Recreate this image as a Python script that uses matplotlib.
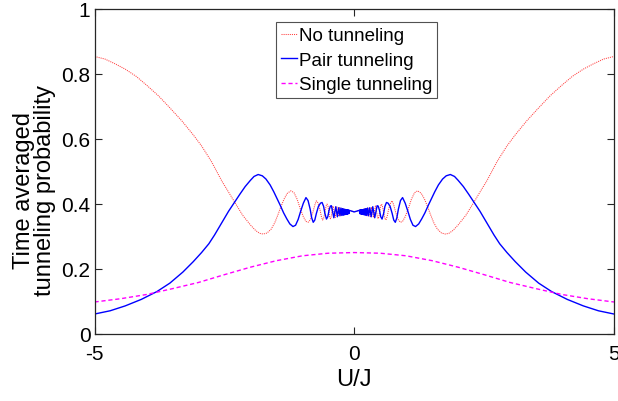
import matplotlib
matplotlib.use('Agg')
import matplotlib.pyplot as plt

plt.rcParams['font.family'] = ['Liberation Sans', 'DejaVu Sans']
plt.rcParams['axes.unicode_minus'] = False

# Pair tunneling (blue, solid)
pair_u_left = [-5.0, -4.7, -4.41, -4.1, -3.8, -3.55, -3.3, -3.1, -2.94, -2.8, -2.69, -2.55, -2.42, -2.3,
               -2.2, -2.1, -2.0, -1.93, -1.85, -1.77, -1.7, -1.62, -1.55, -1.48, -1.43, -1.36, -1.3,
               -1.24, -1.18, -1.13, -1.08, -1.03, -0.98, -0.93, -0.89, -0.85, -0.82, -0.79, -0.76,
               -0.73, -0.69, -0.65, -0.62, -0.59, -0.565, -0.535, -0.51, -0.485, -0.46, -0.44,
               -0.417, -0.394, -0.375, -0.356, -0.340, -0.325, -0.312, -0.299, -0.287, -0.276,
               -0.257, -0.240, -0.226, -0.213, -0.201, -0.191, -0.181, -0.173, -0.165, -0.158,
               -0.152, -0.146, -0.140, -0.135, -0.130, -0.126, -0.122, -0.118, -0.114, -0.111,
               -0.108, -0.105, -0.102, 0.0]
pair_left = [0.061, 0.071, 0.086, 0.106, 0.130, 0.156, 0.190, 0.222, 0.250, 0.277, 0.304, 0.342, 0.377,
             0.406, 0.430, 0.453, 0.472, 0.484, 0.490, 0.486, 0.476, 0.458, 0.437, 0.414, 0.397, 0.372,
             0.354, 0.338, 0.330, 0.334, 0.352, 0.378, 0.402, 0.419, 0.410, 0.384, 0.357, 0.343, 0.350,
             0.370, 0.392, 0.402, 0.404, 0.392, 0.370, 0.353, 0.360, 0.380, 0.393, 0.394,
             0.375, 0.357, 0.374, 0.391, 0.376, 0.360, 0.375, 0.388, 0.376, 0.363,
             0.387, 0.364, 0.385, 0.365, 0.384, 0.366, 0.383, 0.367, 0.382, 0.368,
             0.382, 0.368, 0.381, 0.369, 0.381, 0.369, 0.380, 0.370, 0.380, 0.370,
             0.380, 0.370, 0.380, 0.375]
pair_u_right = [0.102, 0.105, 0.108, 0.111, 0.114, 0.118, 0.122, 0.126, 0.130, 0.135, 0.140, 0.146,
                0.152, 0.158, 0.165, 0.173, 0.181, 0.191, 0.201, 0.213, 0.226, 0.240, 0.257, 0.276,
                0.287, 0.299, 0.312, 0.325, 0.340, 0.356, 0.375, 0.394, 0.417, 0.44, 0.46, 0.485,
                0.51, 0.535, 0.565, 0.59, 0.62, 0.65, 0.69, 0.73, 0.76, 0.79, 0.82, 0.85, 0.89, 0.93,
                0.98, 1.03, 1.08, 1.13, 1.18, 1.24, 1.3, 1.36, 1.43, 1.48, 1.55, 1.62, 1.7, 1.77,
                1.85, 1.93, 2.0, 2.1, 2.2, 2.3, 2.42, 2.55, 2.69, 2.8, 2.94, 3.1, 3.3, 3.55, 3.8,
                4.1, 4.41, 4.7, 5.0]
pair_right = [0.380, 0.370, 0.380, 0.370, 0.380, 0.370, 0.380, 0.369, 0.381, 0.369, 0.381, 0.368,
              0.382, 0.368, 0.382, 0.367, 0.383, 0.366, 0.384, 0.365, 0.385, 0.364, 0.387, 0.363,
              0.376, 0.388, 0.375, 0.360, 0.376, 0.391, 0.374, 0.357, 0.375, 0.394, 0.393, 0.380,
              0.360, 0.353, 0.370, 0.392, 0.404, 0.402, 0.392, 0.370, 0.350, 0.343, 0.357, 0.384,
              0.410, 0.419, 0.402, 0.378, 0.352, 0.334, 0.330, 0.338, 0.354, 0.372, 0.397, 0.414,
              0.437, 0.458, 0.476, 0.486, 0.490, 0.484, 0.472, 0.453, 0.430, 0.406, 0.377, 0.342,
              0.304, 0.277, 0.250, 0.222, 0.190, 0.156, 0.130, 0.106, 0.086, 0.071, 0.061]

# No tunneling (red, dotted)
none_u_left = [-5.0, -4.8, -4.6, -4.41, -4.2, -4.0, -3.77, -3.55, -3.32, -3.1, -2.94, -2.75, -2.55,
               -2.42, -2.3, -2.15, -2.0, -1.9, -1.82, -1.755, -1.68, -1.6, -1.53, -1.47, -1.41, -1.35,
               -1.29, -1.22, -1.16, -1.1, -1.04, -0.98, -0.93, -0.89, -0.85, -0.80, -0.76, -0.73,
               -0.70, -0.66, -0.635, -0.61, -0.59, -0.565, -0.54, -0.524, -0.505, -0.49, -0.475,
               -0.459, -0.445, -0.43, -0.42, -0.408, -0.388, -0.368, -0.334, -0.307, -0.283, -0.263,
               -0.246, -0.230, -0.217, -0.205, -0.194, -0.185, -0.176, -0.168, -0.161, -0.154,
               -0.148, -0.142, -0.137, -0.132, -0.127, -0.123, -0.119, -0.115, -0.112, -0.109,
               -0.106, -0.103, -0.100, 0.0]
none_left = [0.853, 0.845, 0.830, 0.814, 0.792, 0.765, 0.732, 0.695, 0.655, 0.612, 0.578, 0.530, 0.470,
             0.436, 0.404, 0.365, 0.335, 0.318, 0.309, 0.307, 0.310, 0.322, 0.342, 0.366, 0.392, 0.415,
             0.432, 0.440, 0.434, 0.414, 0.385, 0.360, 0.346, 0.343, 0.350, 0.372, 0.396, 0.409,
             0.403, 0.382, 0.362, 0.350, 0.355, 0.375, 0.394, 0.399, 0.392, 0.375, 0.360,
             0.354, 0.360, 0.375, 0.388, 0.393, 0.375, 0.358, 0.390, 0.361, 0.388, 0.363,
             0.386, 0.365, 0.385, 0.366, 0.384, 0.367, 0.383, 0.367, 0.382, 0.368,
             0.382, 0.369, 0.381, 0.369, 0.381, 0.369, 0.380, 0.370, 0.380, 0.370,
             0.380, 0.370, 0.380, 0.375]
none_u_right = [0.100, 0.103, 0.106, 0.109, 0.112, 0.115, 0.119, 0.123, 0.127, 0.132, 0.137, 0.142,
                0.148, 0.154, 0.161, 0.168, 0.176, 0.185, 0.194, 0.205, 0.217, 0.230, 0.246, 0.263,
                0.283, 0.307, 0.334, 0.368, 0.388, 0.408, 0.42, 0.43, 0.445, 0.459, 0.475, 0.49,
                0.505, 0.524, 0.54, 0.565, 0.59, 0.61, 0.635, 0.66, 0.70, 0.73, 0.76, 0.80, 0.85,
                0.89, 0.93, 0.98, 1.04, 1.1, 1.16, 1.22, 1.29, 1.35, 1.41, 1.47, 1.53, 1.6, 1.68,
                1.755, 1.82, 1.9, 2.0, 2.15, 2.3, 2.42, 2.55, 2.75, 2.94, 3.1, 3.32, 3.55, 3.77,
                4.0, 4.2, 4.41, 4.6, 4.8, 5.0]
none_right = [0.380, 0.370, 0.380, 0.370, 0.380, 0.370, 0.380, 0.369, 0.381, 0.369, 0.381, 0.369,
              0.382, 0.368, 0.382, 0.367, 0.383, 0.367, 0.384, 0.366, 0.385, 0.365, 0.386, 0.363,
              0.388, 0.361, 0.390, 0.358, 0.375, 0.393, 0.388, 0.375, 0.360, 0.354, 0.360, 0.375,
              0.392, 0.399, 0.394, 0.375, 0.355, 0.350, 0.362, 0.382, 0.403, 0.409, 0.396, 0.372,
              0.350, 0.343, 0.346, 0.360, 0.385, 0.414, 0.434, 0.440, 0.432, 0.415, 0.392, 0.366,
              0.342, 0.322, 0.310, 0.307, 0.309, 0.318, 0.335, 0.365, 0.404, 0.436, 0.470, 0.530,
              0.578, 0.612, 0.655, 0.695, 0.732, 0.765, 0.792, 0.814, 0.830, 0.845, 0.853]

# Single tunneling (magenta, dashed)
single_u = [-5.0, -4.5, -4.0, -3.5, -3.0, -2.5, -2.0, -1.5, -1.0, -0.5, 0.0,
            0.5, 1.0, 1.5, 2.0, 2.5, 3.0, 3.5, 4.0, 4.5, 5.0]
single = [0.098, 0.108, 0.121, 0.139, 0.158, 0.182, 0.205, 0.225, 0.240, 0.248, 0.250,
          0.248, 0.240, 0.225, 0.205, 0.182, 0.158, 0.139, 0.121, 0.108, 0.098]

x_ticks = [-5, 0, 5]
y_ticks = [0, 0.2, 0.4, 0.6, 0.8, 1]
y_tick_labels = ['0', '0.2', '0.4', '0.6', '0.8', '1']

fig = plt.figure(figsize=(6.18, 4.02), dpi=100)
ax = fig.add_axes([0.153, 0.167, 0.8405, 0.809])

ax.plot(none_u_left + none_u_right, none_left + none_right, color='#ff4040',
        linestyle=(0, (1, 1)), lw=0.75, label='No tunneling')
ax.plot(pair_u_left + pair_u_right, pair_left + pair_right, color='#0000ff', lw=1.0,
        label='Pair tunneling')
ax.plot(single_u, single, color='#ff00ff', linestyle=(0, (3, 2)), lw=1.0, label='Single tunneling')

ax.set_xlim(-5, 5)
ax.set_ylim(0, 1)
ax.set_xticks(x_ticks)
ax.set_yticks(y_ticks)
ax.set_yticklabels(y_tick_labels)
ax.tick_params(direction='in', length=5, width=0.8, labelsize=15, color='#262626',
               top=True, right=True)
ax.tick_params(axis='x', pad=7)
ax.tick_params(axis='y', pad=3)
for s in ax.spines.values():
    s.set_color('#262626')
    s.set_linewidth(0.9)

ax.set_xlabel('U/J', fontsize=17, labelpad=4)
ax.set_ylabel('Time averaged\ntunneling probability', fontsize=17, linespacing=0.95)
ax.yaxis.set_label_coords(-0.074, 0.445)

leg = ax.legend(loc='upper left', bbox_to_anchor=(0.349, 0.958), fontsize=13.5, frameon=True,
                fancybox=False, handlelength=0.9, handletextpad=0.1, borderpad=0.25,
                labelspacing=0.4, borderaxespad=0)
leg.get_frame().set_edgecolor('#262626')
leg.get_frame().set_linewidth(0.8)

fig.savefig('out.png', dpi=100)
